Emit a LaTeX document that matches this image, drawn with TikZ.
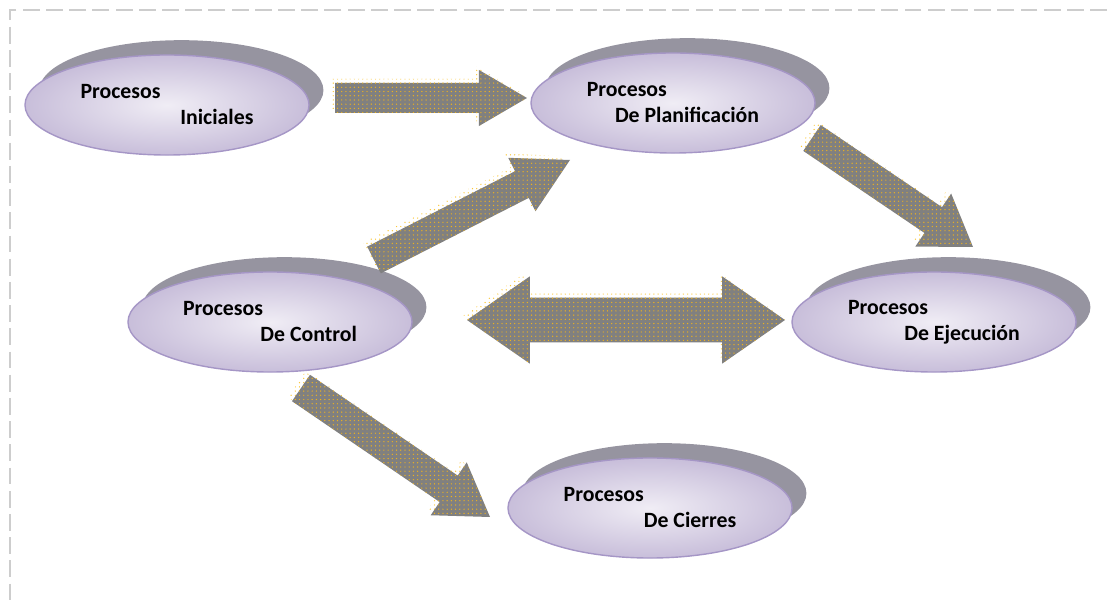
\documentclass[tikz,border=0pt]{standalone}
\usepackage{fontspec}
\setmainfont{Carlito}
\usepackage{tikz}
\usetikzlibrary{shapes.geometric,shadows,patterns,calc}

\definecolor{lavin}{RGB}{240,237,245}
\definecolor{lavout}{RGB}{200,190,218}
\definecolor{lavline}{RGB}{165,150,198}
\definecolor{ellshadow}{RGB}{150,148,160}
\definecolor{arrowgray}{RGB}{128,128,128}
\definecolor{dotorange}{RGB}{238,178,30}
\definecolor{dotyellow}{RGB}{250,200,60}
\definecolor{framegray}{RGB}{205,205,205}

% block arrow: style, tail, tip, half shaft, half head, head length
\newcommand{\arrowpath}[6]{%
  \coordinate (ba) at ($(#3)!#6!(#2)$);
  \path[#1] ($(#2)!#4!90:(#3)$) -- ($(ba)!#4!90:(#3)$) -- ($(ba)!#5!90:(#3)$) -- (#3)
    -- ($(ba)!#5!-90:(#3)$) -- ($(ba)!#4!-90:(#3)$) -- ($(#2)!#4!-90:(#3)$) -- cycle;}
\newcommand{\blockarrow}[5]{%
  \arrowpath{arrowglow}{#1}{#2}{#3}{#4}{#5}
  \arrowpath{arrowbody}{#1}{#2}{#3}{#4}{#5}}

% double block arrow: style, left tip, right tip, half shaft, half head, head length
\newcommand{\dblpath}[6]{%
  \coordinate (bl) at ($(#2)!#6!(#3)$);
  \coordinate (br) at ($(#3)!#6!(#2)$);
  \path[#1] (#2) -- ($(bl)!#5!90:(#3)$) -- ($(bl)!#4!90:(#3)$) -- ($(br)!#4!-90:(#2)$)
    -- ($(br)!#5!-90:(#2)$) -- (#3) -- ($(br)!#5!90:(#2)$) -- ($(br)!#4!90:(#2)$)
    -- ($(bl)!#4!-90:(#3)$) -- ($(bl)!#5!-90:(#3)$) -- cycle;}
\newcommand{\dblarrow}[5]{%
  \dblpath{arrowglow}{#1}{#2}{#3}{#4}{#5}
  \dblpath{arrowbody}{#1}{#2}{#3}{#4}{#5}}

\begin{document}
\begin{tikzpicture}[x=0.025cm,y=-0.025cm,
  proc/.style={ellipse, draw=lavline, line width=1pt, shading=radial, inner color=lavin, outer color=lavout,
    minimum width=7.1cm, minimum height=2.5cm, inner sep=0pt, align=left,
    font=\fontsize{15.5}{18.5}\selectfont\bfseries,
    general shadow={fill=ellshadow, shadow xshift=0.36cm, shadow yshift=0.37cm}},
  arrowbody/.style={fill=arrowgray, postaction={pattern=dots, pattern color=dotorange}},
  arrowglow/.style={pattern=dots, pattern color=dotyellow, transform canvas={shift={(-0.1cm,0.1cm)}}},
  frame/.style={draw=framegray, line width=1pt, dash pattern=on 12pt off 4.5pt}]

\useasboundingbox (0,0) rectangle (1107,602);
\draw[frame] (1107,10) -- (10,10) -- (10,602);

\node[proc] (ini) at (167,105) {Procesos\\\hspace*{71pt}Iniciales};
\node[proc] (plan) at (673,103) {Procesos\\\hspace*{20pt}De Planificación};
\node[proc] (ctrl) at (270,322) {Procesos\\\hspace*{55pt}De Control};
\node[proc] (ejec) at (934,322) {Procesos\\\hspace*{40pt}De Ejecución};
\node[proc] (cierre) at (650,508) {Procesos\\\hspace*{57pt}De Cierres};

\coordinate (a1t) at (335,98);  \coordinate (a1h) at (527,98);
\coordinate (a2t) at (374,260); \coordinate (a2h) at (570,160);
\coordinate (a3t) at (812,138); \coordinate (a3h) at (973,247);
\coordinate (a4l) at (467,320); \coordinate (a4r) at (785,320);
\coordinate (a5t) at (301,388); \coordinate (a5h) at (490,517);

\blockarrow{a1t}{a1h}{0.375cm}{0.7cm}{1.2cm}
\blockarrow{a2t}{a2h}{0.375cm}{0.75cm}{1.35cm}
\blockarrow{a3t}{a3h}{0.39cm}{0.8cm}{1.2cm}
\dblarrow{a4l}{a4r}{0.56cm}{1.09cm}{1.57cm}
\blockarrow{a5t}{a5h}{0.4cm}{0.8cm}{1.25cm}
\end{tikzpicture}
\end{document}
